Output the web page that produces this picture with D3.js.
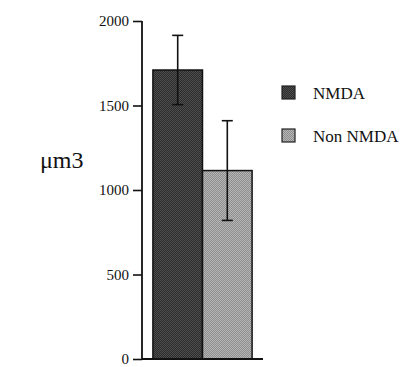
<!DOCTYPE html>
<html>
<head>
<meta charset="utf-8">
<script src="https://cdn.jsdelivr.net/npm/d3@7"></script>
<style>
  body { margin: 0; background: #fff; }
  svg text { font-family: "Liberation Serif", "DejaVu Serif", "Noto Serif", "Times New Roman", Times, serif; fill: #111; }
</style>
</head>
<body>
<div id="chart"></div>
<script>
const groups = ['NMDA', 'Non NMDA'];
const means = [1710, 1115];
const errors = [205, 295];
const yTicks = [0, 500, 1000, 1500, 2000];

const W = 419, H = 367;
const svg = d3.select('#chart').append('svg')
    .attr('width', W)
    .attr('height', H);

// dithered fills like the scanned print
const defs = svg.append('defs');
const fills = [['#2c2c2c', '#4e4e4e'], ['#8e8e8e', '#b6b6b6']];
fills.forEach((c, i) => {
    const p = defs.append('pattern')
        .attr('id', 'fill' + i)
        .attr('width', 2).attr('height', 2)
        .attr('patternUnits', 'userSpaceOnUse');
    p.append('rect').attr('width', 2).attr('height', 2).attr('fill', c[0]);
    p.append('rect').attr('width', 1).attr('height', 1).attr('fill', c[1]);
    p.append('rect').attr('x', 1).attr('y', 1).attr('width', 1).attr('height', 1).attr('fill', c[1]);
});

const x = d3.scaleBand()
    .domain(groups)
    .range([142, 263])
    .paddingInner(0)
    .paddingOuter(0.22);

const y = d3.scaleLinear()
    .domain([0, 2000])
    .range([359, 21]);

// bars
svg.selectAll('rect.bar')
    .data(groups)
    .enter().append('rect')
    .attr('class', 'bar')
    .attr('x', d => x(d))
    .attr('y', (d, i) => y(means[i]))
    .attr('width', x.bandwidth())
    .attr('height', (d, i) => y(0) - y(means[i]))
    .attr('fill', (d, i) => `url(#fill${i})`)
    .attr('stroke', '#111')
    .attr('stroke-width', 1.5);

// error bars
const eb = svg.selectAll('g.err')
    .data(groups)
    .enter().append('g')
    .attr('class', 'err')
    .attr('stroke', '#111')
    .attr('stroke-width', 1.6);

eb.append('line')
    .attr('x1', d => x(d) + x.bandwidth() / 2)
    .attr('x2', d => x(d) + x.bandwidth() / 2)
    .attr('y1', (d, i) => y(means[i] + errors[i]))
    .attr('y2', (d, i) => y(means[i] - errors[i]));

[1, -1].forEach(s => {
    eb.append('line')
        .attr('x1', d => x(d) + x.bandwidth() / 2 - 5.5)
        .attr('x2', d => x(d) + x.bandwidth() / 2 + 5.5)
        .attr('y1', (d, i) => y(means[i] + s * errors[i]))
        .attr('y2', (d, i) => y(means[i] + s * errors[i]));
});

// y axis
const yAxis = svg.append('g')
    .attr('transform', 'translate(142,0)')
    .call(d3.axisLeft(y).tickValues(yTicks).tickFormat(d3.format('d')).tickSize(9).tickPadding(4));
yAxis.attr('font-family', null);
yAxis.select('.domain').remove();
yAxis.selectAll('line').attr('stroke', '#111').attr('stroke-width', 1.6);
yAxis.selectAll('text')
    .attr('font-size', 15)
    .attr('fill', '#111');

svg.append('line')
    .attr('x1', 142).attr('x2', 142)
    .attr('y1', y(2000)).attr('y2', y(0))
    .attr('stroke', '#111').attr('stroke-width', 1.8);

// baseline
svg.append('line')
    .attr('x1', 142).attr('x2', 263)
    .attr('y1', y(0)).attr('y2', y(0))
    .attr('stroke', '#111').attr('stroke-width', 1.8);

// y title
svg.append('text')
    .attr('x', 40).attr('y', 168)
    .attr('font-size', 24)
    .text('μm3');

// legend
const leg = svg.selectAll('g.leg')
    .data(groups)
    .enter().append('g')
    .attr('class', 'leg')
    .attr('transform', (d, i) => `translate(282,${86 + i * 43})`);

leg.append('rect')
    .attr('width', 13).attr('height', 13)
    .attr('fill', (d, i) => `url(#fill${i})`)
    .attr('stroke', '#222')
    .attr('stroke-width', 1.2);

leg.append('text')
    .attr('x', 31).attr('y', 13)
    .attr('font-size', 17)
    .text(d => d);
</script>
</body>
</html>
